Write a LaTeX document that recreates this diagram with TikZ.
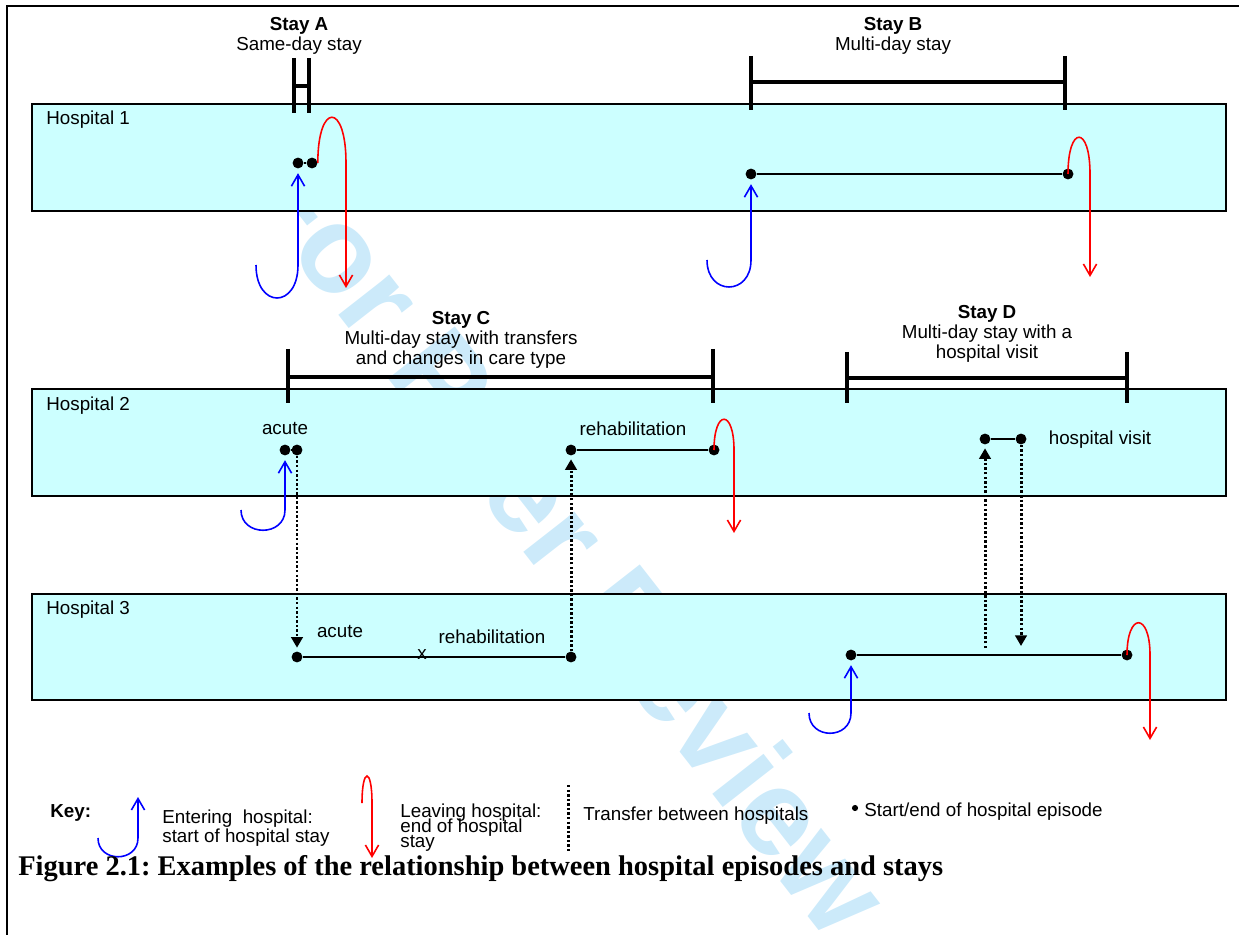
\documentclass[tikz,border=0pt]{standalone}
\usepackage{fontspec}
\setmainfont{Liberation Sans}
\newfontfamily\capfont{Liberation Serif}
\usetikzlibrary{arrows.meta}
\definecolor{HospFill}{RGB}{204,255,255}
\definecolor{EnterBlue}{RGB}{0,0,255}
\definecolor{LeaveRed}{RGB}{255,0,0}
\definecolor{MarkBlue}{RGB}{204,234,250}

\begin{document}
\begin{tikzpicture}[x=0.02cm,y=-0.02cm,
  font=\fontsize{10.7}{11.5}\selectfont,
  hosp/.style={draw=black,line width=0.8pt,fill=HospFill},
  ep/.style={circle,fill=black,inner sep=0pt,minimum size=6.2pt},
  bar/.style={line width=2.2pt},
  epline/.style={line width=0.8pt},
  enter/.style={draw=EnterBlue,line width=0.9pt,-{Straight Barb[length=6.5pt,width=7.5pt]}},
  leave/.style={draw=LeaveRed,line width=0.9pt,-{Straight Barb[length=6.5pt,width=7.5pt]}},
  xfer/.style={line width=1.7pt,dash pattern=on 1.4pt off 1.2pt},
  transfer/.style={xfer,-{Triangle[length=6pt,width=6.5pt]}},
  stay/.style={align=center,inner sep=0pt},
  lbl/.style={inner sep=0pt}]
  \useasboundingbox (0,0) rectangle (1239,935);
  % watermark behind everything
  \node[text=MarkBlue,font=\fontsize{70}{70}\selectfont\bfseries,rotate=-52] (mark) at (570,540) {For Peer Review};
  % hospitals
  \draw[hosp] (32,104) rectangle (1226,211);
  \draw[hosp] (32,389) rectangle (1226,496);
  \draw[hosp] (32,594) rectangle (1226,700);
  \node[lbl,anchor=west] (h1) at (46,120) {Hospital 1};
  \node[lbl,anchor=west] (h2) at (46,406) {Hospital 2};
  \node[lbl,anchor=west] (h3) at (46,610) {Hospital 3};
  \draw[line width=1.6pt] (7,935) -- (7,6) -- (1239,6);

  % Stay A
  \node[stay] (stayA) at (299,36) {\textbf{Stay A}\\Same-day stay};
  \draw[bar] (294,58) -- (294,113) (309,58) -- (309,113) (294,86) -- (309,86);
  \node[ep] (astart) at (298,163) {};
  \node[ep] (aend) at (312,163) {};
  \draw[epline] (astart) -- (aend);
  \coordinate (ain) at (256,265);
  \coordinate (aout) at (346,288);
  \draw[enter,shorten >=2.5pt] (ain) .. controls +(0,44) and +(0,44) .. (astart |- ain) -- (astart);
  \draw[leave] (aend.east) .. controls +(0,-61) and +(0,-61) .. (aout |- aend) -- (aout);

  % Stay B
  \node[stay] (stayB) at (893,36) {\textbf{Stay B}\\Multi-day stay};
  \draw[bar] (751,56) -- (751,110) (1065,56) -- (1065,110) (751,82) -- (1065,82);
  \node[ep] (bstart) at (751,174) {};
  \node[ep] (bend) at (1068,174) {};
  \draw[epline] (bstart) -- (bend);
  \coordinate (bin) at (707,260);
  \coordinate (bout) at (1090,277);
  \draw[enter,shorten >=2.5pt] (bin) .. controls +(0,36) and +(0,36) .. (bstart |- bin) -- (bstart);
  \draw[leave] (bend.center) .. controls +(0,-49) and +(0,-49) .. (bout |- bend) -- (bout);

  % Stay C
  \node[stay] (stayC) at (461,340) {\textbf{Stay C}\\Multi-day stay with transfers\\and changes in care type};
  \draw[bar] (288,349) -- (288,403) (713,349) -- (713,403) (288,377) -- (713,377);
  \node[ep] (cstart) at (285,450) {};
  \node[ep] (cacute) at (297,450) {};
  \node[lbl] (acute2) at (285,429) {acute};
  \node[ep] (crehab) at (571,450) {};
  \node[ep] (cend) at (714,450) {};
  \node[lbl] (rehab2) at (633,429) {rehabilitation};
  \node[ep] (cacute3) at (297,657) {};
  \node[ep] (crehab3) at (571,657) {};
  \node[lbl] (acute3) at (340,632) {acute};
  \node[lbl] (rehab3) at (492,637) {rehabilitation};
  \draw[epline] (cstart) -- (cacute);
  \draw[epline] (crehab) -- (cend);
  \draw[epline] (cacute3) -- (crehab3);
  \node[lbl] (ccare) at (422,655) {x};
  \draw[transfer,shorten >=2pt] (cacute) -- (cacute3);
  \draw[transfer,shorten >=2pt] (crehab3) -- (crehab);
  \coordinate (cin) at (241,510);
  \coordinate (cout) at (734,533);
  \draw[enter,shorten >=2.5pt] (cin) .. controls +(0,27) and +(0,27) .. (cstart |- cin) -- (cstart);
  \draw[leave] (cend.center) .. controls +(0,-41) and +(0,-41) .. (cout |- cend) -- (cout);

  % Stay D
  \node[stay] (stayD) at (987,334) {\textbf{Stay D}\\Multi-day stay with a\\hospital visit};
  \draw[bar] (847,352) -- (847,403) (1127,352) -- (1127,403) (847,378) -- (1127,378);
  \node[ep] (dvisit) at (985,439) {};
  \node[ep] (dvisitend) at (1021,439) {};
  \node[lbl] (visit) at (1100,440) {hospital visit};
  \draw[epline] (dvisit) -- (dvisitend);
  \node[ep] (dstart) at (851,655) {};
  \node[ep] (dend) at (1127,655) {};
  \draw[epline] (dstart) -- (dend);
  \coordinate (dgo) at (985,648);
  \coordinate (dback) at (1021,646);
  \draw[transfer,shorten >=2pt] (dgo) -- (dvisit);
  \draw[transfer] (dvisitend) -- (dback);
  \coordinate (din) at (809,713);
  \coordinate (dout) at (1150,740);
  \draw[enter,shorten >=2.5pt] (din) .. controls +(0,27) and +(0,27) .. (dstart |- din) -- (dstart);
  \draw[leave] (dend.center) .. controls +(0,-43) and +(0,-43) .. (dout |- dend) -- (dout);

  % key
  \node[lbl,anchor=west] (key) at (50,813) {\textbf{Key:}};
  \coordinate (kin) at (98,838);
  \coordinate (kup) at (138,797);
  \draw[enter] (kin) .. controls +(0,25) and +(0,25) .. (kup |- kin) -- (kup);
  \node[lbl,anchor=west,align=left] (kenter) at (162,828) {Entering~ hospital:\\[-1pt]start of hospital stay};
  \coordinate (kout) at (362,803);
  \coordinate (kdown) at (372,858);
  \draw[leave] (kout) .. controls +(0,-36) and +(0,-36) .. (kdown |- kout) -- (kdown);
  \node[lbl,anchor=west,align=left] (kleave) at (400,828) {Leaving hospital:\\[-3pt]end of hospital\\[-3pt]stay};
  \coordinate (ktop) at (568,785);
  \coordinate (kbot) at (568,853);
  \draw[xfer] (ktop) -- (kbot);
  \node[lbl,anchor=west] (kxfer) at (583,816) {Transfer between hospitals};
  \node[ep,minimum size=3.5pt] (kdot) at (855,808) {};
  \node[lbl,anchor=west] (kepi) at (864,812) {Start/end of hospital episode};

  % caption
  \node[lbl,anchor=base west,font=\capfont\bfseries\fontsize{16.2}{18}\selectfont\frenchspacing] (cap) at (18,875) {Figure 2.1: Examples of the relationship between hospital episodes and stays};
\end{tikzpicture}
\end{document}
